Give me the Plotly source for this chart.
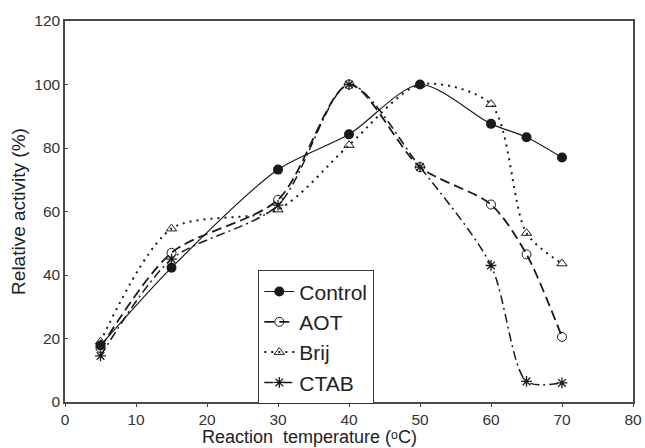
import plotly.graph_objects as go

temps = [5, 15, 30, 40, 50, 60, 65, 70]
control = [17.8, 42.3, 73.2, 84.3, 100, 87.6, 83.4, 77.0]
aot = [17.0, 47.0, 63.7, 100, 74.0, 62.2, 46.5, 20.5]
brij = [19.0, 54.6, 60.6, 80.9, 100, 93.8, 53.2, 43.6]
ctab = [14.5, 45.0, 62.0, 100, 74.0, 43.0, 6.5, 6.0]

x_ticks = [0, 10, 20, 30, 40, 50, 60, 70, 80]
y_ticks = [0, 20, 40, 60, 80, 100, 120]

ink = "#1a1a1a"
font_fam = "Liberation Sans, Arial"
fig = go.Figure()
fig.add_trace(go.Scatter(
    x=temps, y=control, name="Control", mode="lines+markers",
    line=dict(color=ink, width=1.2, shape="spline", smoothing=0.8, dash="solid"),
    marker=dict(symbol="circle", size=10, color=ink)))
fig.add_trace(go.Scatter(
    x=temps, y=aot, name="AOT", mode="lines+markers",
    line=dict(color=ink, width=1.8, shape="spline", smoothing=0.8, dash="10px,5px"),
    marker=dict(symbol="circle-open", size=9, color=ink, line=dict(width=1))))
fig.add_trace(go.Scatter(
    x=temps, y=brij, name="Brij", mode="lines+markers",
    line=dict(color=ink, width=2, shape="spline", smoothing=0.8, dash="2px,5px"),
    marker=dict(symbol="triangle-up-open", size=9, color=ink, line=dict(width=1))))
fig.add_trace(go.Scatter(
    x=temps, y=ctab, name="CTAB", mode="lines+markers",
    line=dict(color=ink, width=1.5, shape="spline", smoothing=0.8, dash="9px,4px,2px,4px"),
    marker=dict(symbol="asterisk-open", size=9, color=ink, line=dict(width=1.3, color=ink))))

axis_common = dict(
    showgrid=False, zeroline=False, showline=True, linecolor="#4a4a4a", linewidth=1.5,
    mirror=True, ticklen=3, tickcolor="#4a4a4a", tickwidth=1.2, automargin=False,
    tickfont=dict(family=font_fam, size=15.5, color="#333"),
)
fig.update_xaxes(range=[0, 80], tickvals=x_ticks, ticks="outside", **axis_common)
fig.update_yaxes(range=[0, 120], tickvals=y_ticks, ticks="inside", **axis_common,
                 title=dict(text="Relative activity (%)",
                            font=dict(family=font_fam, size=19, color="#222"),
                            standoff=4))

fig.add_annotation(text="Reaction  temperature (ᵒC)",
                   xref="paper", yref="paper", x=0.43, y=-0.064,
                   xanchor="center", yanchor="top", showarrow=False, borderpad=0,
                   font=dict(family=font_fam, size=18, color="#222"))

fig.update_layout(
    width=645, height=448,
    margin=dict(l=65, r=12, t=21, b=46),
    plot_bgcolor="white", paper_bgcolor="white",
    legend=dict(x=0.34, y=0.346, xanchor="left", yanchor="top",
                bordercolor="#333", borderwidth=1.2, bgcolor="white",
                font=dict(family=font_fam, size=21, color="#222"),
                tracegroupgap=0),
    showlegend=True,
)
fig.write_html("out.html")
